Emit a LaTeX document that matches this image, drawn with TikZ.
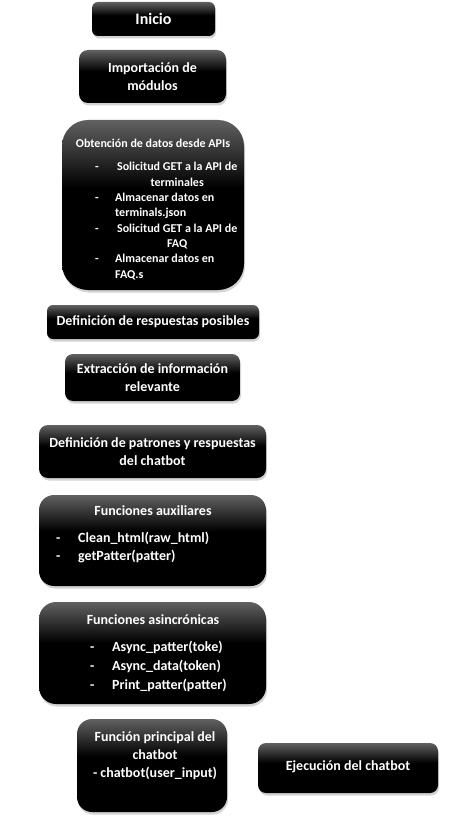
\documentclass[tikz,border=0pt]{standalone}
\usepackage{fontspec}
\setmainfont{Carlito}
\usetikzlibrary{shadows}
\pgfdeclareverticalshading{boxshade}{100bp}{color(0bp)=(black); color(25bp)=(black); color(55bp)=(black); color(75bp)=(black!62); color(100bp)=(black!62)}
\tikzset{
  box/.style={rounded corners=#1, draw=none, shading=boxshade, inner sep=0pt,
    drop shadow={opacity=0.35, shadow xshift=1pt, shadow yshift=-2.5pt}},
  txt/.style={text=white, inner sep=0pt, font=\fontsize{14}{18}\selectfont\bfseries},
  ltxt/.style={txt, anchor=west, text height=10pt, text depth=3.5pt},
  stxt/.style={text=white, inner sep=0pt, font=\fontsize{12}{15.3}\selectfont\bfseries},
}
\begin{document}
\begin{tikzpicture}[x=1pt,y=-1pt]
\useasboundingbox (0,0) rectangle (456,824);
% boxes
\node[box=6,  minimum width=123pt, minimum height=34pt]  (b1)  at (153.5,19)  {};
\node[box=9,  minimum width=147pt, minimum height=53pt]  (b2)  at (152.5,76.5) {};
\node[box=26, minimum width=182pt, minimum height=170pt] (b3)  at (153,205)   {};
\node[box=6,  minimum width=212pt, minimum height=34pt]  (b4)  at (153,322)   {};
\node[box=8,  minimum width=175pt, minimum height=47pt]  (b5)  at (152.5,377.5) {};
\node[box=9,  minimum width=227pt, minimum height=53pt]  (b6)  at (152.5,451.5) {};
\node[box=15, minimum width=227pt, minimum height=91pt]  (b7)  at (152.5,540.5) {};
\node[box=17, minimum width=227pt, minimum height=102pt] (b8)  at (152.5,653)  {};
\node[box=15, minimum width=150pt, minimum height=93pt]  (b9)  at (152,765.5)  {};
\node[box=8,  minimum width=180pt, minimum height=50pt]  (b10) at (348,768)    {};
% texts
\node[txt, font=\fontsize{16}{19}\selectfont\bfseries] (t1) at (b1) {Inicio};
\node[txt, align=center] (t2) at (b2) {Importación de\\módulos};
\node[stxt] (t3) at (153,143) {Obtención de datos desde APIs};
\node[stxt, anchor=north west] (t3l) at (95,160) {%
  \begin{tabular}{@{}p{20pt}@{}p{124pt}@{}}
  - & \centering Solicitud GET a la API de\par terminales\tabularnewline
  - & Almacenar datos en\par terminals.json\tabularnewline
  - & \centering Solicitud GET a la API de\par FAQ\tabularnewline
  - & Almacenar datos en\par FAQ.s\tabularnewline
  \end{tabular}};
\node[txt] (t4) at (b4) {Definición de respuestas posibles};
\node[txt, align=center] (t5) at (b5) {Extracción de información\\relevante};
\node[txt, align=center] (t6) at (b6) {Definición de patrones y respuestas\\del chatbot};
\node[txt] (t7) at (153,511) {Funciones auxiliares};
\node[ltxt] (t7a) at (56,539) {-};
\node[ltxt] (t7b) at (78,539) {Clean\_html(raw\_html)};
\node[ltxt] (t7c) at (56,557) {-};
\node[ltxt] (t7d) at (78,557) {getPatter(patter)};
\node[txt] (t8) at (153,620) {Funciones asincrónicas};
\node[ltxt] (t8a) at (90,648) {-};
\node[ltxt] (t8b) at (112,648) {Async\_patter(toke)};
\node[ltxt] (t8c) at (90,667) {-};
\node[ltxt] (t8d) at (112,667) {Async\_data(token)};
\node[ltxt] (t8e) at (90,686) {-};
\node[ltxt] (t8f) at (112,686) {Print\_patter(patter)};
\node[txt, align=center] (t9) at (155,756) {Función principal del\\chatbot\\- chatbot(user\_input)};
\node[txt] (t10) at (348,767) {Ejecución del chatbot};
\end{tikzpicture}
\end{document}
